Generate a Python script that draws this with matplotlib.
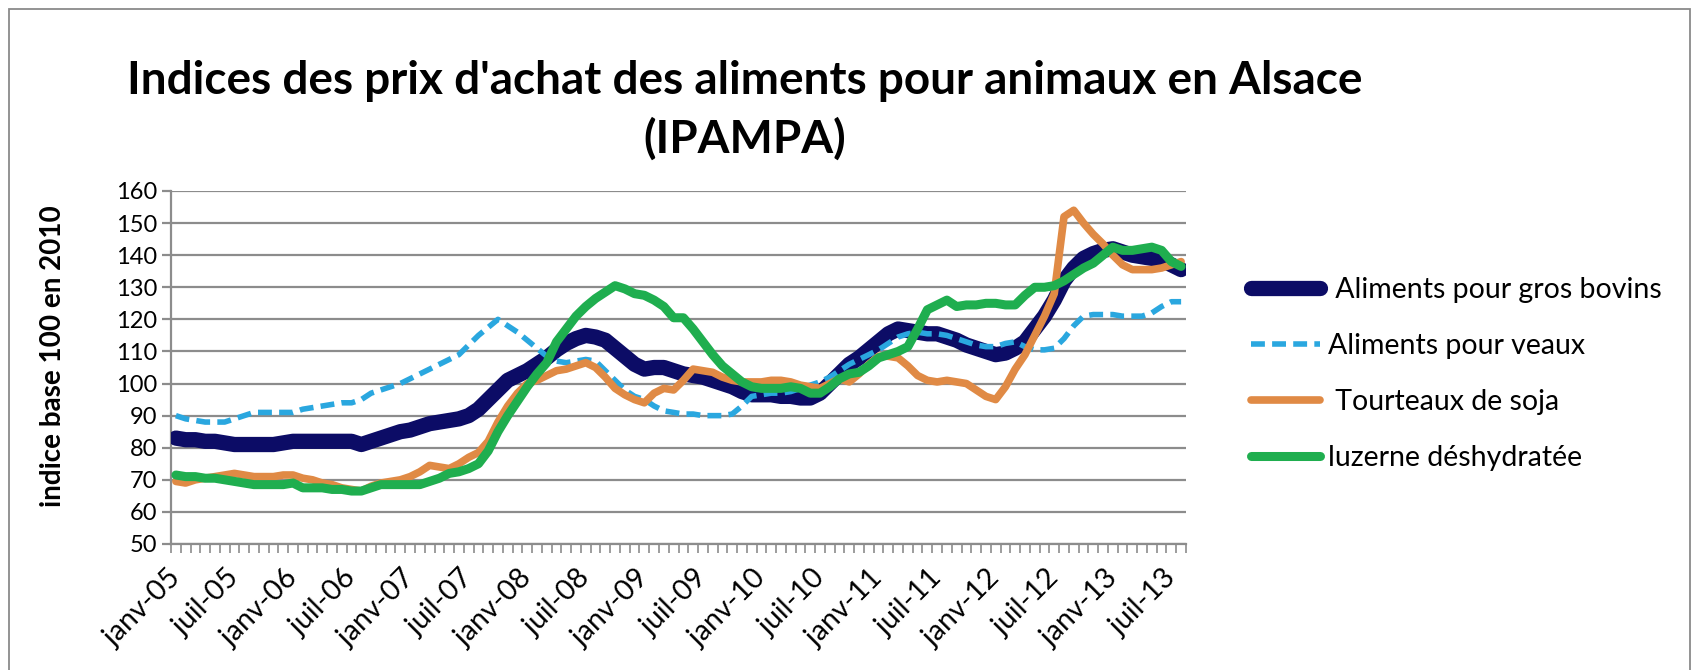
import matplotlib
matplotlib.use('Agg')
import matplotlib.pyplot as plt
import numpy as np
from matplotlib.patches import Rectangle
from matplotlib.transforms import ScaledTranslation

mois = ['janv', 'févr', 'mars', 'avr', 'mai', 'juin', 'juil', 'août', 'sept', 'oct', 'nov', 'déc']
categories = [f"{mois[k % 12]}-{5 + k // 12:02d}" for k in range(104)]

bovins = [83, 82.5, 82.5, 82, 82, 81.5,
          81, 81, 81, 81, 81, 81.5,
          82, 82, 82, 82, 82, 82,
          82, 81, 82, 83, 84, 85,
          85.5, 86.5, 87.5, 88, 88.5, 89,
          90, 92, 95, 98, 101, 102.5,
          104, 106, 108, 110.5, 112.5, 114,
          115, 114.5, 113.5, 111, 108.5, 106,
          104.5, 105, 105, 104, 103, 102.5,
          102, 101, 100, 99, 97.5, 96.5,
          96.5, 96.5, 96, 96, 95.5, 95.5,
          97, 100, 103, 106, 108, 110.5,
          113, 115.5, 117, 116.5, 116, 115.5,
          115.5, 114.5, 113.5, 112, 111, 110,
          109, 109.5, 111, 113, 117, 121,
          126, 132, 136, 139, 140.5, 141.5,
          142, 141, 140, 139.5, 139, 138.5,
          137, 135.5]

veaux = [90, 89, 88.5, 88, 88, 88,
         89, 90, 91, 91, 91, 91,
         91, 92, 92.5, 93, 93.5, 94,
         94, 95, 97, 98, 99, 100,
         101.5, 103, 104.5, 106, 107.5, 109,
         112, 115, 117.5, 120, 118, 116,
         113.5, 111, 108.5, 107, 106.5, 107,
         107.5, 107, 104, 101, 98, 96,
         95, 93, 91.5, 91, 90.5, 90.5,
         90, 90, 90, 90.5, 93, 96,
         96.5, 97, 97, 97.5, 98.5, 99.5,
         100.5, 102, 104, 106, 107.5, 109,
         110.5, 112.5, 114.5, 115.5, 116, 115.5,
         115.5, 115, 114, 113, 112, 111.5,
         111.5, 112.5, 113, 111.5, 110.5, 110.5,
         111, 114, 118, 121, 121.5, 121.5,
         121.5, 121, 121, 121, 122, 124,
         125.5, 125.5]

soja = [69.5, 69, 70, 70.5, 71, 71.5,
        72, 71.5, 71, 71, 71, 71.5,
        71.5, 70.5, 70, 69, 68.5, 67.5,
        67, 66.5, 68, 69, 69.5, 70,
        71, 72.5, 74.5, 74, 73.5, 75,
        77, 78.5, 82, 88, 93, 97,
        100, 101, 102.5, 104, 104.5, 105.5,
        106.5, 105, 102, 98.5, 96.5, 95,
        94, 97, 98.5, 98, 101, 104.5,
        104, 103.5, 102, 101, 100.5, 100.5,
        100.5, 101, 101, 100.5, 99.5, 99,
        98.5, 100, 101.5, 100.5, 103, 106,
        108.5, 108.5, 108, 105.5, 102.5, 101,
        100.5, 101, 100.5, 100, 98, 96,
        95, 99, 104.5, 109, 115, 121,
        128, 152, 154, 150, 146.5, 143.5,
        140, 137, 135.5, 135.5, 135.5, 136,
        137, 138]

luzerne = [71.5, 71, 71, 70.5, 70.5, 70,
           69.5, 69, 68.5, 68.5, 68.5, 68.5,
           69, 67.5, 67.5, 67.5, 67, 67,
           66.5, 66.5, 67.5, 68.5, 68.5, 68.5,
           68.5, 68.5, 69.5, 70.5, 72, 72.5,
           73.5, 75, 79, 85, 90, 94.5,
           99, 103, 106.5, 113, 117, 121,
           124, 126.5, 128.5, 130.5, 129.5, 128,
           127.5, 126, 124, 120.5, 120.5, 117,
           113, 109, 105.5, 103, 100.5, 99,
           98.5, 98.5, 98.5, 99, 98.5, 97,
           97, 99, 101.5, 103, 103.5, 105.5,
           108, 109, 110, 111.5, 117, 123,
           124.5, 126, 124, 124.5, 124.5, 125,
           125, 124.5, 124.5, 127.5, 130, 130,
           130.5, 132, 134, 136, 137.5, 140,
           142.5, 141.5, 141.5, 142, 142.5, 141.5,
           138, 136.5]

series_labels = [' Aliments pour gros bovins', 'Aliments pour veaux',
                 ' Tourteaux de soja', 'luzerne déshydratée']
yticks = list(range(50, 161, 10))
title_lines = ["Indices des prix d'achat des aliments pour animaux en Alsace", "(IPAMPA)"]
ylabel = "indice base 100 en 2010"

plt.rcParams['font.family'] = ['Lato', 'DejaVu Sans']

W, H = 1699, 670
fig = plt.figure(figsize=(W / 100, H / 100), dpi=100)
fig.patch.set_facecolor('white')

# outer chart border
fig.add_artist(Rectangle((9 / W, -0.05), (1690 - 9) / W, 1 - 9 / H + 0.05,
                         transform=fig.transFigure, fill=False,
                         edgecolor='#8a8a8a', lw=1.3))

ax = fig.add_axes([171 / W, 1 - 544 / H, (1186 - 171) / W, (544 - 191) / H])
x = np.arange(len(categories))

ax.plot(x, bovins, color='#0c0c66', lw=11, solid_capstyle='round',
        solid_joinstyle='round', label=series_labels[0], zorder=3)
ax.plot(x, veaux, color='#2aa7df', lw=4, dashes=(2.5, 1.3),
        label=series_labels[1], zorder=4)
ax.plot(x, soja, color='#e08a45', lw=5.5, solid_joinstyle='round',
        solid_capstyle='round', label=series_labels[2], zorder=5)
ax.plot(x, luzerne, color='#1fae4f', lw=6.5, solid_joinstyle='round',
        solid_capstyle='round', label=series_labels[3], zorder=6)

ax.set_xlim(-0.5, len(categories) - 0.5)
ax.set_ylim(50, 160)
ax.set_yticks(yticks)
ax.grid(axis='y', color='#8c8c8c', lw=1.6)
ax.set_axisbelow(True)
for s in ['top', 'right']:
    ax.spines[s].set_visible(False)
for s in ['left', 'bottom']:
    ax.spines[s].set_color('#8c8c8c')
    ax.spines[s].set_linewidth(1.6)

ax.set_xticks(x[::6])
ax.set_xticklabels([categories[i] for i in x[::6]], rotation=45,
                   ha='right', va='center', rotation_mode='anchor', fontsize=20.5)
offset = ScaledTranslation(6 / 72, 0, fig.dpi_scale_trans)
for lab in ax.get_xticklabels():
    lab.set_transform(lab.get_transform() + offset)
ax.set_xticks(np.arange(-0.5, len(categories), 1), minor=True)
ax.tick_params(axis='x', which='major', length=0, pad=22)
ax.tick_params(axis='x', which='minor', length=6.5, width=1.2, color='#8c8c8c', direction='out')
ax.tick_params(axis='y', length=6.5, width=1.6, color='#8c8c8c', pad=3.5, labelsize=17)

fig.text(745 / W, 1 - 81 / H, title_lines[0], ha='center', va='center',
         fontsize=33, fontweight='bold')
fig.text(745 / W, 1 - 139 / H, title_lines[1], ha='center', va='center',
         fontsize=33, fontweight='bold')
fig.text(53 / W, 1 - 356 / H, ylabel, rotation=90, ha='center', va='center',
         fontsize=20, fontweight='bold')

fig.legend(loc='center left', bbox_to_anchor=(1240 / W, 1 - 374 / H),
           frameon=False, fontsize=20.5, handlelength=2.4, handletextpad=0.3,
           labelspacing=1.05, borderaxespad=0)

fig.savefig('out.png', dpi=100, facecolor='white')
